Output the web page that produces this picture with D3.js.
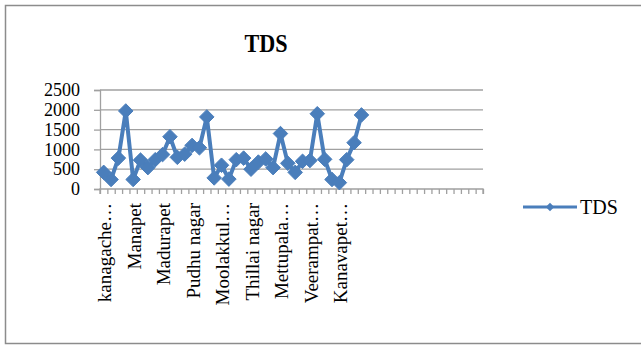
<!DOCTYPE html>
<html>
<head>
<meta charset="utf-8">
<script src="https://cdn.jsdelivr.net/npm/d3@7/dist/d3.min.js"></script>
<style>
  html, body { margin: 0; padding: 0; background: #fff; }
  svg { display: block; }
  text { font-family: "Liberation Serif", "Times New Roman", serif; fill: #000; }
</style>
</head>
<body>
<svg id="chart" width="641" height="350"></svg>
<script>
// TDS readings per sampling site (mg/L), in site order
const tdsValues = [
  420, 240, 780, 1970, 240, 730, 540, 740, 870, 1320,
  800, 880, 1100, 1040, 1820, 280, 600, 250, 740, 780,
  500, 680, 760, 540, 1400, 650, 420, 700, 720, 1900,
  750, 240, 160, 740, 1170, 1870
];
// Category slots on the axis (the sheet range includes empty rows)
const categoryCount = 52;
// Every fourth site name is shown on the axis
const labelStep = 4;
const tickLabels = [
  "kanagache\u2026", "Manapet", "Madurapet", "Pudhu nagar", "Moolakkul\u2026",
  "Thillai nagar", "Mettupala\u2026", "Veerampat\u2026", "Kanavapet\u2026"
];
const yTicks = [0, 500, 1000, 1500, 2000, 2500];
const seriesName = "TDS";

const svg = d3.select("#chart");
const plot = { left: 100, right: 483, top: 90, bottom: 189 };
const blue = "#4a7ebb";

// Chart area border
svg.append("rect")
  .attr("x", 5.5).attr("y", 5.5)
  .attr("width", 660).attr("height", 338)
  .attr("fill", "none").attr("stroke", "#8c8c8c").attr("stroke-width", 1.5);

// Title
svg.append("text")
  .attr("x", 266).attr("y", 52)
  .attr("text-anchor", "middle")
  .attr("font-size", 26).attr("font-weight", "bold")
  .attr("textLength", 43).attr("lengthAdjust", "spacingAndGlyphs")
  .text(seriesName);

const y = d3.scaleLinear().domain([0, 2500]).range([plot.bottom, plot.top]);
const xEdge = d3.scaleLinear().domain([0, categoryCount]).range([plot.left, plot.right]);
const xc = i => xEdge(i + 0.5);

// Horizontal gridlines
svg.append("g").selectAll("line")
  .data(yTicks.filter(v => v > 0))
  .join("line")
  .attr("x1", plot.left).attr("x2", plot.right)
  .attr("y1", d => y(d)).attr("y2", d => y(d))
  .attr("stroke", "#a0a0a0").attr("stroke-width", 1.3);

// Value axis
const yAxis = svg.append("g")
  .attr("transform", `translate(${plot.left},0)`)
  .call(d3.axisLeft(y).tickValues(yTicks).tickSize(6).tickPadding(14).tickFormat(d3.format("d")));
yAxis.select(".domain").attr("stroke", "#a0a0a0").attr("stroke-width", 1.3);
yAxis.selectAll(".tick line").attr("stroke", "#a0a0a0").attr("stroke-width", 1.3);
yAxis.selectAll(".tick text")
  .attr("font-family", "Liberation Serif, Times New Roman, serif")
  .attr("font-size", 18).attr("fill", "#000");

// Category axis with a tick between each category
const xAxis = svg.append("g")
  .attr("transform", `translate(0,${plot.bottom})`)
  .call(d3.axisBottom(xEdge).tickValues(d3.range(categoryCount + 1)).tickSize(5).tickFormat(""));
xAxis.select(".domain").attr("stroke", "#a0a0a0").attr("stroke-width", 1.3).attr("d", `M${plot.left},5V0H${plot.right}V5`);
xAxis.selectAll(".tick line").attr("stroke", "#a0a0a0").attr("stroke-width", 1.3);

// Rotated category labels
svg.append("g").selectAll("text")
  .data(tickLabels)
  .join("text")
  .attr("transform", (d, k) => `translate(${xc(k * labelStep) + 1},${plot.bottom + 14}) rotate(-90)`)
  .attr("text-anchor", "end")
  .attr("dy", "0.35em")
  .attr("font-size", 19)
  .text(d => d);

// Series line
const line = d3.line().x((d, i) => xc(i)).y(d => y(d));
svg.append("path")
  .datum(tdsValues)
  .attr("d", line)
  .attr("fill", "none")
  .attr("stroke", blue)
  .attr("stroke-width", 4)
  .attr("stroke-linejoin", "round");

// Diamond markers
const diamond = d3.symbol().type(d3.symbolDiamond2).size(135);
svg.append("g").selectAll("path")
  .data(tdsValues)
  .join("path")
  .attr("transform", (d, i) => `translate(${xc(i)},${y(d)})`)
  .attr("d", diamond)
  .attr("fill", blue)
  .attr("stroke", blue)
  .attr("stroke-width", 1);

// Legend
const lg = svg.append("g").attr("transform", "translate(523,207)");
lg.append("line").attr("x1", 0).attr("x2", 54).attr("y1", 0).attr("y2", 0)
  .attr("stroke", blue).attr("stroke-width", 3);
lg.append("path").attr("transform", "translate(27,0)")
  .attr("d", d3.symbol().type(d3.symbolDiamond2).size(45))
  .attr("fill", blue);
lg.append("text").attr("x", 57).attr("y", 6.5)
  .attr("font-size", 20).text(seriesName);
</script>
</body>
</html>
